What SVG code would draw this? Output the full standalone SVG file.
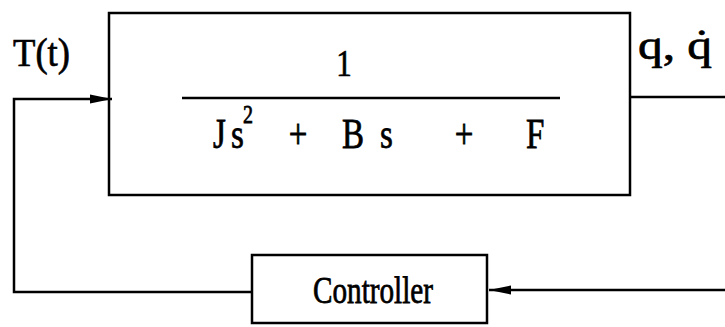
<svg xmlns="http://www.w3.org/2000/svg" width="725" height="327" viewBox="0 0 725 327">
<defs>
<style>
.box{fill:#fff;stroke:#000;stroke-width:2.5}
.ln{fill:none;stroke:#000;stroke-width:2.5}
.t{fill:#000;stroke:#000;stroke-width:0.6;font-family:"Liberation Serif", "Times New Roman", serif}
</style>
<marker id="ah" markerWidth="22" markerHeight="12" refX="22" refY="6" orient="auto" markerUnits="userSpaceOnUse">
<path d="M0,1.5 L22,6 L0,10.5 Z" fill="#000"/>
</marker>
</defs>
<rect width="725" height="327" fill="#fff"/>
<g id="plant">
<rect class="box" x="109" y="13" width="521" height="182"/>
<text class="t" transform="translate(344,76) scale(1,1.2)" font-size="31" text-anchor="middle">1</text>
<line class="ln" x1="182" y1="98" x2="560" y2="98" stroke-width="3"/>
<g transform="translate(0,148) scale(1,1.25)">
<text class="t" x="213" y="0" font-size="33">J</text>
<text class="t" x="231" y="0" font-size="33">s</text>
<text class="t" x="243" y="-20" font-size="20">2</text>
<text class="t" x="298" y="0" font-size="33" text-anchor="middle">+</text>
<text class="t" x="342" y="0" font-size="33">B</text>
<text class="t" x="380" y="0" font-size="33">s</text>
<text class="t" x="464" y="0" font-size="33" text-anchor="middle">+</text>
<text class="t" x="526" y="0" font-size="33">F</text>
</g>
</g>
<g id="controller">
<rect class="box" x="252" y="255" width="235" height="68"/>
<text class="t" transform="translate(313,303) scale(1,1.25)" font-size="30" textLength="120" lengthAdjust="spacingAndGlyphs">Controller</text>
</g>
<g id="labels">
<text class="t" transform="translate(13,66) scale(1,1.1)" font-size="36" textLength="57" lengthAdjust="spacingAndGlyphs">T(t)</text>
<text class="t" transform="translate(638,59) scale(1,1.15)" font-size="36" textLength="74" lengthAdjust="spacingAndGlyphs">q, q̇</text>
</g>
<g id="connectors">
<polyline class="ln" points="252,292 14,292 14,99 112,99" marker-end="url(#ah)"/>
<line class="ln" x1="630" y1="97" x2="725" y2="97"/>
<line class="ln" x1="725" y1="290" x2="489" y2="290" marker-end="url(#ah)"/>
</g>
</svg>
